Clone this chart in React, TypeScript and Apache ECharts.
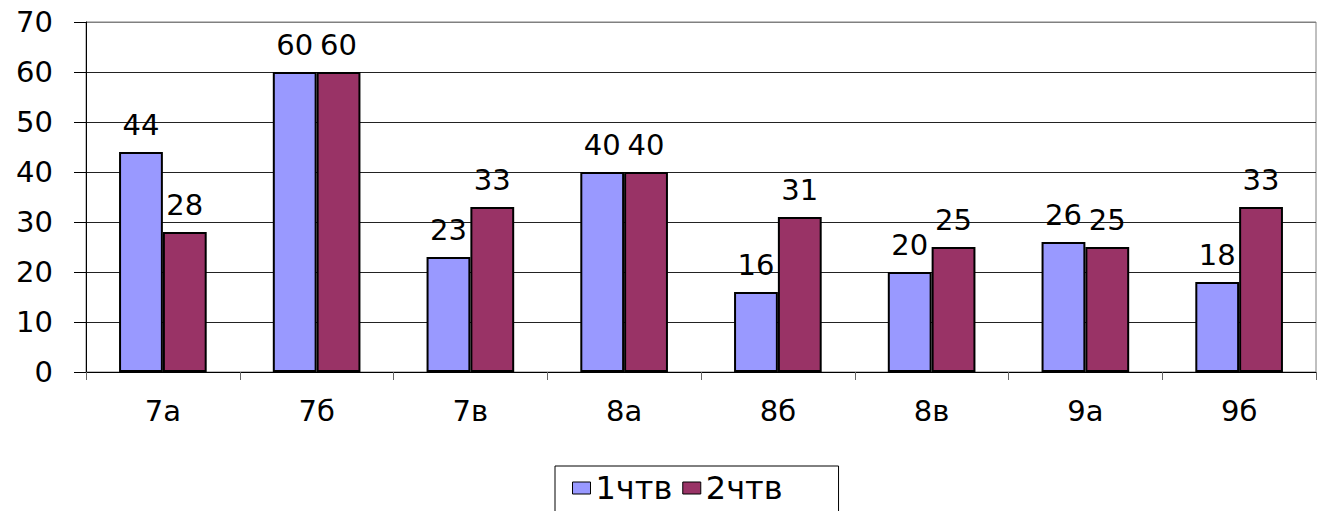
import React, { useEffect, useRef } from "react";
import * as echarts from "echarts";

const categories = ["7а", "7б", "7в", "8а", "8б", "8в", "9а", "9б"];
const series1Name = "1чтв";
const series2Name = "2чтв";
const series1 = [44, 60, 23, 40, 16, 20, 26, 18];
const series2 = [28, 60, 33, 40, 31, 25, 25, 33];
const yTicks = { min: 0, max: 70, interval: 10 };

const FONT = "DejaVu Sans";

export default function App() {
  const ref = useRef<HTMLDivElement>(null);
  useEffect(() => {
    document.body.style.margin = "0";
    if (!ref.current) return;
    const chart = echarts.init(ref.current, undefined, { renderer: "svg" });
    const label = {
      show: true,
      position: "top" as const,
      distance: 13,
      fontFamily: FONT,
      fontSize: 29,
      color: "#000",
    };
    chart.setOption({
      animation: false,
      backgroundColor: "#fff",
      grid: {
        left: 86,
        right: 2,
        top: 22,
        bottom: 139,
        show: true,
        borderColor: "#808080",
        borderWidth: 1,
      },
      legend: {
        top: 466,
        left: 555,
        itemWidth: 18,
        itemHeight: 12,
        itemGap: 10,
        icon: "rect",
        borderColor: "#000",
        borderWidth: 1,
        padding: [6, 56, 30, 17],
        itemStyle: { borderColor: "#000", borderWidth: 1 },
        textStyle: { fontFamily: FONT, fontSize: 32, color: "#000", padding: [0, 4, 0, 0] },
        data: [series1Name, series2Name],
      },
      xAxis: {
        type: "category",
        data: categories,
        axisLine: { lineStyle: { color: "#000", width: 1 } },
        axisTick: { show: true, length: 8, lineStyle: { color: "#666" } },
        axisLabel: { fontFamily: FONT, fontSize: 29, color: "#000", margin: 24 },
      },
      yAxis: {
        type: "value",
        min: yTicks.min,
        max: yTicks.max,
        interval: yTicks.interval,
        axisLine: { show: true, lineStyle: { color: "#000", width: 1 } },
        axisTick: { show: true, length: 12, lineStyle: { color: "#000" } },
        axisLabel: { fontFamily: FONT, fontSize: 29, color: "#000", margin: 33 },
        splitLine: {
          lineStyle: {
            color: ["#000", "#222", "#222", "#222", "#222", "#222", "#222", "#808080"],
            width: 1,
          },
        },
      },
      series: [
        {
          name: series1Name,
          type: "bar",
          data: series1,
          barGap: "0%",
          barCategoryGap: "43%",
          itemStyle: { color: "#9999FF", borderColor: "#000", borderWidth: 2 },
          label,
        },
        {
          name: series2Name,
          type: "bar",
          data: series2,
          barGap: "0%",
          barCategoryGap: "43%",
          itemStyle: { color: "#993366", borderColor: "#000", borderWidth: 2 },
          label,
        },
      ],
    });
    return () => chart.dispose();
  }, []);
  return <div ref={ref} style={{ width: 1318, height: 511 }} />;
}
